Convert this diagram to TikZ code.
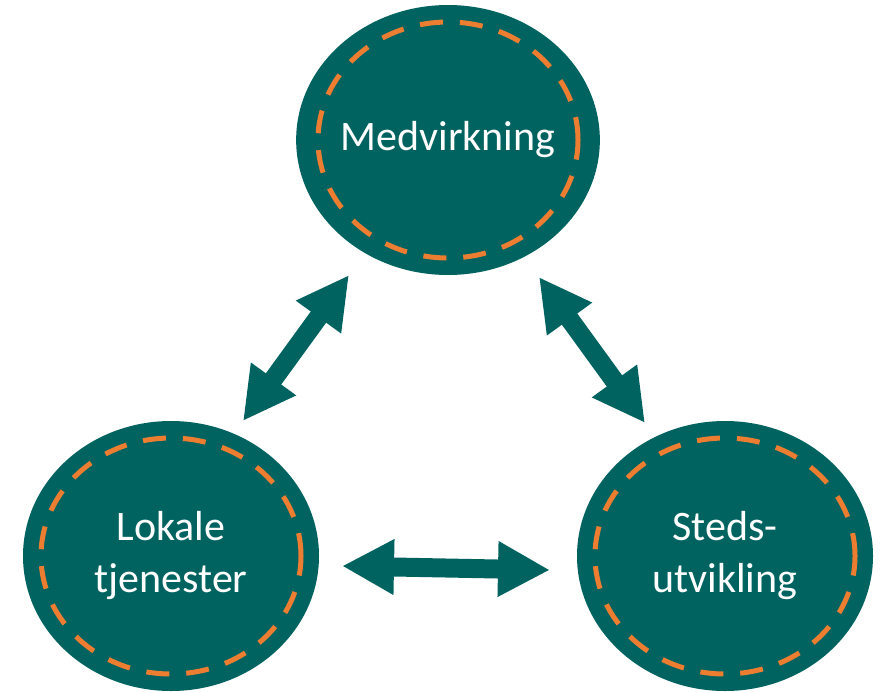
\documentclass[tikz,border=0pt]{standalone}
\usepackage{fontspec}
\setmainfont{Carlito}
\usetikzlibrary{shapes.geometric,arrows.meta}
\definecolor{petrol}{RGB}{0,99,95}
\definecolor{oransje}{RGB}{237,125,49}
\begin{document}
\begin{tikzpicture}[x=1pt, y=-1pt, line join=round,
	sirkel/.style={ellipse, fill=petrol, minimum width=296pt, minimum height=270pt, inner sep=0pt,
		text=white, align=center, font=\fontsize{42}{52}\selectfont},
	ring/.style={draw=oransje, line width=5pt, dash pattern=on 23pt off 17pt},
	pil/.style={draw=petrol, line width=19pt, {Triangle[length=52pt,width=52pt]}-{Triangle[length=52pt,width=52pt]}}]
	\useasboundingbox (0,0) rectangle (885,691);
	\node[sirkel] (medv) at (448,140) {\raisebox{-5pt}{Medvirkning}};
	\node[sirkel] (lokal) at (171,556) {Lokale\\tjenester};
	\node[sirkel] (sted) at (725,556) {Steds-\\utvikling};
	\draw[ring] (medv.center) ellipse [x radius=130pt, y radius=118pt];
	\draw[ring] (lokal.center) ellipse [x radius=130pt, y radius=118pt];
	\draw[ring] (sted.center) ellipse [x radius=130pt, y radius=118pt];
	\coordinate (p1) at (243,421);
	\coordinate (p2) at (349,275);
	\coordinate (p3) at (539,277);
	\coordinate (p4) at (645,423);
	\coordinate (p5) at (342,566);
	\coordinate (p6) at (550,570);
	\draw[pil] (p1) -- (p2);
	\draw[pil] (p3) -- (p4);
	\draw[pil] (p5) -- (p6);
\end{tikzpicture}
\end{document}
